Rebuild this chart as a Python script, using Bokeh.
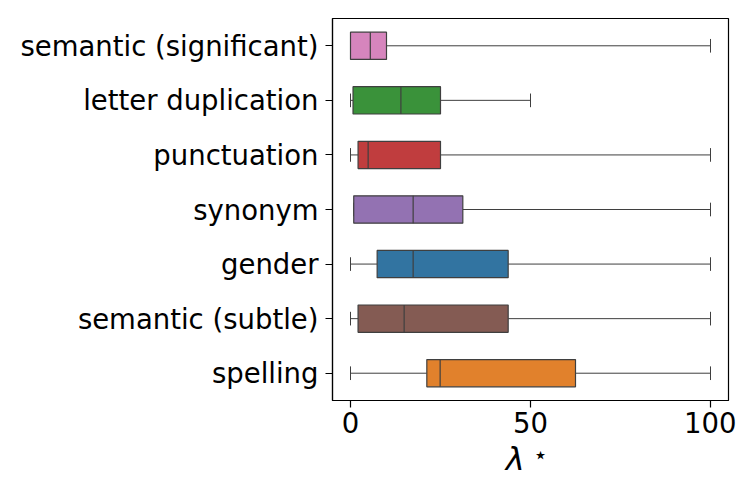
from bokeh.plotting import figure
from bokeh.models import ColumnDataSource, FactorRange, Range1d, FixedTicker, Label
from bokeh.transform import dodge
from bokeh.embed import file_html
from bokeh.resources import INLINE

categories = ["semantic (significant)", "letter duplication", "punctuation",
              "synonym", "gender", "semantic (subtle)", "spelling"]
whisker_low = [0, 0, 0, 0.9, 0, 0, 0]
q1 = [0, 0.7, 2.1, 0.9, 7.4, 2.1, 21.2]
median = [5.5, 14.0, 4.9, 17.4, 17.4, 14.9, 24.9]
q3 = [10.0, 25.0, 25.0, 31.2, 43.8, 43.8, 62.5]
whisker_high = [100, 50, 100, 100, 100, 100, 100]
colors = ["#d685bd", "#3a923a", "#c03d3e", "#9372b2", "#3274a1", "#845b53", "#e1812c"]
x_ticks = [0, 50, 100]

src = ColumnDataSource(dict(cat=categories, lo=whisker_low, q1=q1, med=median,
                            q3=q3, hi=whisker_high, color=colors))

p = figure(y_range=FactorRange(factors=list(reversed(categories)), range_padding=0),
           x_range=Range1d(-5, 105),
           frame_width=396, frame_height=382,
           min_border_left=332, min_border_right=8, min_border_top=18, min_border_bottom=88,
           output_backend="svg", toolbar_location=None)

edge = "#3f3f3f"
p.segment(x0="lo", x1="q1", y0="cat", y1="cat", source=src, line_color=edge, line_width=1)
p.segment(x0="q3", x1="hi", y0="cat", y1="cat", source=src, line_color=edge, line_width=1)
p.segment(x0="lo", x1="lo", y0=dodge("cat", -0.125, range=p.y_range),
          y1=dodge("cat", 0.125, range=p.y_range), source=src, line_color=edge, line_width=1)
p.segment(x0="hi", x1="hi", y0=dodge("cat", -0.125, range=p.y_range),
          y1=dodge("cat", 0.125, range=p.y_range), source=src, line_color=edge, line_width=1)
p.hbar(y="cat", left="q1", right="q3", height=0.5, source=src,
       fill_color="color", line_color=edge, line_width=1.2)
p.segment(x0="med", x1="med", y0=dodge("cat", -0.25, range=p.y_range),
          y1=dodge("cat", 0.25, range=p.y_range), source=src, line_color=edge, line_width=1.2)

p.xgrid.visible = False
p.ygrid.visible = False
p.outline_line_color = "black"
p.outline_line_width = 1.2
p.background_fill_color = "white"
p.border_fill_color = "white"

for ax in (p.xaxis[0], p.yaxis[0]):
    ax.axis_line_color = "black"
    ax.axis_line_width = 1.2
    ax.major_tick_line_color = "black"
    ax.major_tick_line_width = 1.2
    ax.major_tick_in = 0
    ax.major_tick_out = 7
    ax.minor_tick_line_color = None
    ax.major_label_text_font = "DejaVu Sans"
    ax.major_label_text_font_size = "27.5px"
    ax.major_label_text_color = "black"

p.xaxis.ticker = FixedTicker(ticks=x_ticks)
p.xaxis.major_label_standoff = 4
p.yaxis.major_label_standoff = 7

p.xaxis.axis_label = "λ   "
p.xaxis.axis_label_text_font = "DejaVu Sans"
p.xaxis.axis_label_text_font_style = "italic"
p.xaxis.axis_label_text_font_size = "32px"
p.xaxis.axis_label_text_color = "black"
p.xaxis.axis_label_standoff = 4

star = Label(x=52.8, y=54, x_units="data", y_units="screen", text="⋆",
             text_font="DejaVu Sans", text_font_size="24px",
             text_align="center", text_baseline="middle", text_color="black")
p.add_layout(star, "below")

open("out.html", "w").write(file_html(p, INLINE))
